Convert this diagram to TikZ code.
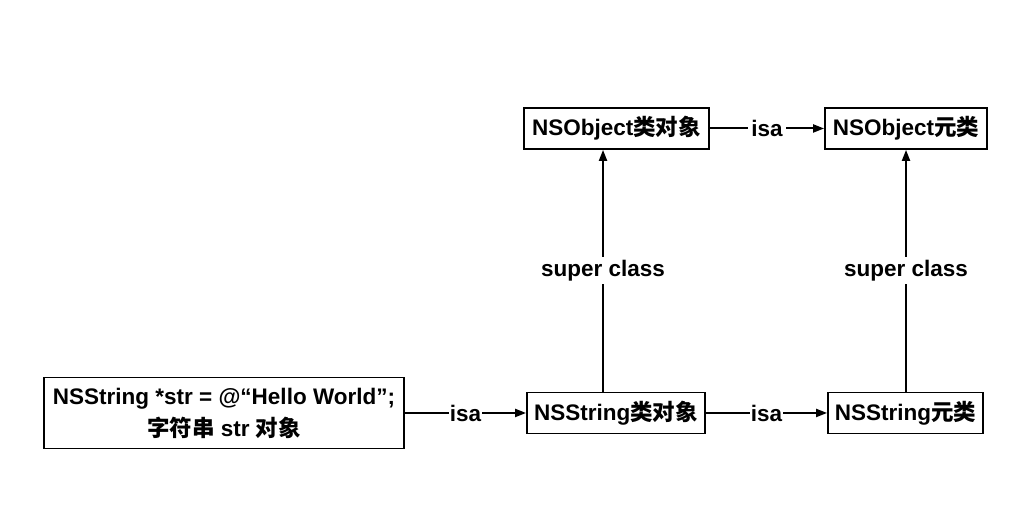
\documentclass[tikz,border=0pt]{standalone}
\usepackage{fontspec}
\setmainfont{Liberation Sans}
\newfontfamily\cjk{Noto Sans CJK SC}
\usetikzlibrary{arrows.meta,calc}
\begin{document}
\begin{tikzpicture}[x=1pt,y=1pt,
  box/.style={draw=black,line width=1.8pt,fill=white,inner sep=0pt,align=center,font=\fontsize{22.5}{32}\selectfont\bfseries},
  arr/.style={line width=2pt,-{Triangle[length=11pt,width=8pt]}},
  lbl/.style={fill=white,inner sep=3pt,font=\fontsize{22.5}{26}\selectfont\bfseries}]
\useasboundingbox (0,0) rectangle (1034,525);
\node[box,minimum width=360pt,minimum height=71pt] (str) at (224,112)
  {NSString *str = @“Hello World”;\\{\cjk 字符串} str {\cjk 对象}};
\node[box,minimum width=178pt,minimum height=41pt] (nsc) at (616,112) {NSString{\cjk 类对象}};
\node[box,minimum width=155pt,minimum height=41pt] (nsm) at (905.5,112) {NSString{\cjk 元类}};
\node[box,minimum width=185pt,minimum height=41pt] (noc) at (616.5,396.5) {NSObject{\cjk 类对象}};
\node[box,minimum width=162pt,minimum height=41pt] (nom) at (906,396.5) {NSObject{\cjk 元类}};
\coordinate (xa) at (603,0);
\coordinate (xb) at (906,0);
\draw[arr] (str) -- node[lbl,inner xsep=1pt] {isa} (nsc);
\draw[arr] (nsc) -- node[lbl,inner xsep=1pt] {isa} (nsm);
\draw[arr] (noc) -- node[lbl] {isa} (nom);
\draw[arr] (nsc.north -| xa) -- node[lbl] {super class} (noc.south -| xa);
\draw[arr] (nsm.north -| xb) -- node[lbl] {super class} (nom.south -| xb);
\end{tikzpicture}
\end{document}
